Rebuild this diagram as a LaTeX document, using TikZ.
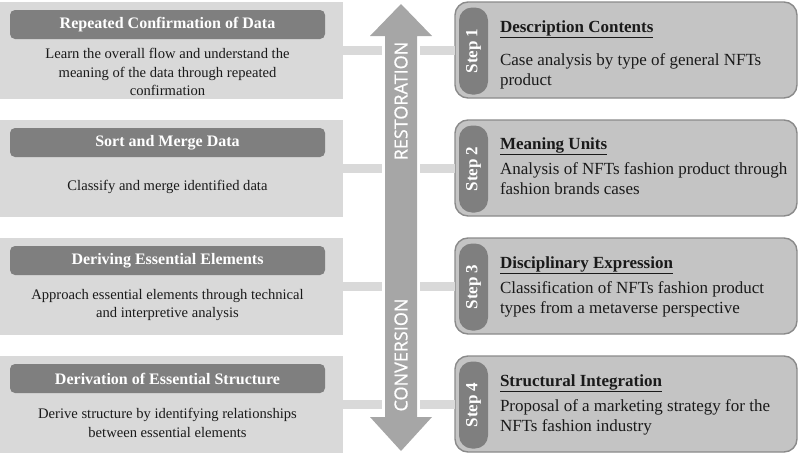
\documentclass[tikz,border=0pt]{standalone}
\usepackage{fontspec}
\setmainfont{Liberation Serif}
\newfontfamily\arrowfont[FakeBold=0.7]{Open Sans}
\usetikzlibrary{positioning, calc}

\definecolor{boxgray}{HTML}{D9D9D9}
\definecolor{headgray}{HTML}{7F7F7F}
\definecolor{stepgray}{HTML}{C4C4C4}
\definecolor{edgegray}{HTML}{8A8A8A}
\definecolor{arrowgray}{HTML}{A6A6A6}
\definecolor{inkblack}{HTML}{1A1A1A}

\begin{document}
\begin{tikzpicture}[x=1pt,y=-1pt,
        every node/.style={inner sep=0pt,outer sep=0pt},
        phase/.style={fill=boxgray,minimum width=343pt,minimum height=97pt,anchor=north west},
        phasehead/.style={fill=headgray,rounded corners=5pt,minimum width=315pt,minimum height=29pt,
            text=white,font=\fontsize{16}{18}\selectfont\bfseries},
        phasetext/.style={align=center,text=inkblack,font=\fontsize{14.6}{18.5}\selectfont},
        stepbox/.style={fill=stepgray,draw=edgegray,line width=1.4pt,rounded corners=13pt,
            minimum width=342pt,minimum height=96pt,anchor=north west},
        steptab/.style={fill=headgray,rounded corners=13pt,rotate=90,anchor=north,
            minimum width=87pt,minimum height=29pt,text=white,font=\fontsize{17}{19}\selectfont\bfseries},
        steptitle/.style={anchor=base west,text=inkblack,font=\fontsize{17}{19}\selectfont\bfseries},
        stepdesc/.style={align=left,text=inkblack,font=\fontsize{17}{20}\selectfont},
        arrowtext/.style={rotate=90,text=white,font=\fontsize{18}{20}\arrowfont},
        link/.style={draw=boxgray,line width=9pt}]

    \useasboundingbox (0,0) rectangle (800,455);

    % left column
    \node[phase] (p_1) at (0,2) {};
    \node[phase] (p_2) at (0,120) {};
    \node[phase] (p_3) at (0,238) {};
    \node[phase] (p_4) at (0,356) {};

    \node[phasehead, below right=8pt and 10pt of p_1.north west] (h_1) {Repeated Confirmation of Data};
    \node[phasehead, below right=8pt and 10pt of p_2.north west] (h_2) {Sort and Merge Data};
    \node[phasehead, below right=8pt and 10pt of p_3.north west] (h_3) {Deriving Essential Elements};
    \node[phasehead, below right=8pt and 10pt of p_4.north west] (h_4) {Derivation of Essential Structure};

    \node[phasetext] (e_1) at ($(h_1.south)!.5!(h_1.south |- p_1.south)+(0,3)$)
        {Learn the overall flow and understand the\\meaning of the data through repeated\\confirmation};
    \node[phasetext] (e_2) at ($(h_2.south)!.5!(h_2.south |- p_2.south)$)
        {Classify and merge identified data};
    \node[phasetext] (e_3) at ($(h_3.south)!.5!(h_3.south |- p_3.south)$)
        {Approach essential elements through technical\\and interpretive analysis};
    \node[phasetext] (e_4) at ($(h_4.south)!.5!(h_4.south |- p_4.south)$)
        {Derive structure by identifying relationships\\between essential elements};

    % double arrow in the middle
    \fill[arrowgray] (401,4) -- (432,36) -- (417,36) -- (417,417) -- (432,417) -- (401,451)
        -- (370,417) -- (385,417) -- (385,36) -- (370,36) -- cycle;
    \node[arrowtext] (rest) at (401,101) {RESTORATION};
    \node[arrowtext] (conv) at (401,355) {CONVERSION};
    \coordinate (shaftL) at (382,0);
    \coordinate (shaftR) at (420,0);

    % right column
    \node[stepbox] (s_1) at (455,2) {};
    \node[stepbox] (s_2) at (455,120) {};
    \node[stepbox] (s_3) at (455,238) {};
    \node[stepbox] (s_4) at (455,356) {};

    \path[link] (p_1.east) -- (p_1.east -| shaftL) (shaftR |- s_1.west) -- (s_1.west);
    \path[link] (p_2.east) -- (p_2.east -| shaftL) (shaftR |- s_2.west) -- (s_2.west);
    \path[link] (p_3.east) -- (p_3.east -| shaftL) (shaftR |- s_3.west) -- (s_3.west);
    \path[link] (p_4.east) -- (p_4.east -| shaftL) (shaftR |- s_4.west) -- (s_4.west);

    \node[steptab] (t_1) at ($(s_1.west)+(4,1)$) {Step 1};
    \node[steptab] (t_2) at ($(s_2.west)+(4,1)$) {Step 2};
    \node[steptab] (t_3) at ($(s_3.west)+(4,1)$) {Step 3};
    \node[steptab] (t_4) at ($(s_4.west)+(4,1)$) {Step 4};

    \node[steptitle] (d_1) at ($(s_1.north west)+(45,30)$) {\underline{Description Contents}};
    \node[steptitle] (d_2) at ($(s_2.north west)+(45,29)$) {\underline{Meaning Units}};
    \node[steptitle] (d_3) at ($(s_3.north west)+(45,30)$) {\underline{Disciplinary Expression}};
    \node[steptitle] (d_4) at ($(s_4.north west)+(45,30)$) {\underline{Structural Integration}};

    \node[stepdesc, below=22pt of d_1.base west, anchor=north west] (c_1)
        {Case analysis by type of general NFTs\\product};
    \node[stepdesc, below=14pt of d_2.base west, anchor=north west] (c_2)
        {Analysis of NFTs fashion product through\\fashion brands cases};
    \node[stepdesc, below=14pt of d_3.base west, anchor=north west] (c_3)
        {Classification of NFTs fashion product\\types from a metaverse perspective};
    \node[stepdesc, below=14pt of d_4.base west, anchor=north west] (c_4)
        {Proposal of a marketing strategy for the\\NFTs fashion industry};
\end{tikzpicture}
\end{document}
